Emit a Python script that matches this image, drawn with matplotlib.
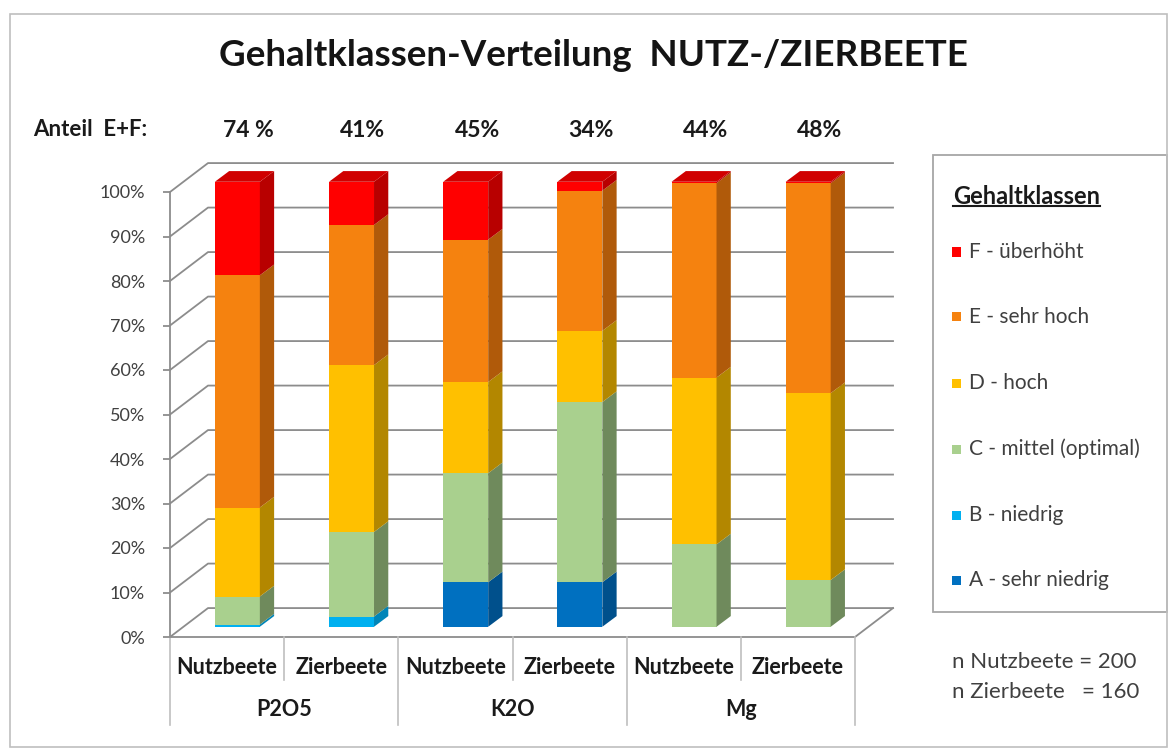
"""Gehaltklassen-Verteilung Nutz-/Zierbeete as a pseudo-3D stacked column chart."""
import numpy as np
import matplotlib
matplotlib.use("Agg")
import matplotlib.pyplot as plt
from matplotlib.patches import Polygon, Rectangle

plt.rcParams["font.family"] = ["Lato", "DejaVu Sans"]

# --- data (percent of samples per content class) ---
groups = ["P2O5", "K2O", "Mg"]
beds = ["Nutzbeete", "Zierbeete"]
cls_A = [0.0, 0.0, 10.0, 10.0, 0.0, 0.0]
cls_B = [0.5, 2.3, 0.0, 0.0, 0.0, 0.0]
cls_C = [6.3, 19.0, 24.5, 40.5, 18.5, 10.5]
cls_D = [20.0, 37.5, 20.5, 16.0, 37.5, 42.0]
cls_E = [52.2, 31.5, 32.0, 31.5, 43.7, 47.2]
cls_F = [21.0, 9.7, 13.0, 2.0, 0.3, 0.3]
share_EF = ["74 %", "41%", "45%", "34%", "44%", "48%"]
class_labels = ["A - sehr niedrig", "B - niedrig", "C - mittel (optimal)",
                "D - hoch", "E - sehr hoch", "F - überhöht"]
n_text = ["n Nutzbeete = 200", "n Zierbeete   = 160"]

front = ["#0070C0", "#00B0F0", "#A9D08E", "#FFC000", "#F5820F", "#FF0000"]
side = ["#00508C", "#0085B8", "#6F8A5C", "#B38700", "#B05A0A", "#B80000"]
top = ["#005A9E", "#0098D0", "#8BAE74", "#D9A300", "#D06A0A", "#D00000"]

# oblique "3D" geometry, in data units
DX, DY = 0.333, 6.5          # depth of the plot box
BX, BY = 0.09, 2.3           # front face of the columns behind front plane
BDX, BDY = 0.125, 2.4        # column depth
W = 0.394                    # column width
GRID = "#8C8C8C"
TXT = "#404040"
DARK = "#1A1A1A"

W_PX, H_PX = 1171, 749
fig = plt.figure(figsize=(W_PX / 100, H_PX / 100), dpi=100)
ax = fig.add_axes([170 / W_PX, (H_PX - 637) / H_PX, 685 / W_PX, 445 / H_PX])
ax.set_xlim(0, 6)
ax.set_ylim(0, 100)
for s in ("top", "right", "bottom"):
    ax.spines[s].set_visible(False)
ax.spines["left"].set_color(GRID)
ax.spines["left"].set_linewidth(1.3)
ax.set_xticks([])
ax.set_yticks(np.arange(0, 101, 10))
ax.set_yticklabels([f"{v}%" for v in range(0, 101, 10)])
ax.tick_params(axis="y", length=5, width=1.3, color=GRID, pad=13,
               labelsize=13, labelcolor=TXT)
ax.patch.set_visible(False)

# back wall grid + side diagonals
for v in range(0, 101, 10):
    ax.plot([0, DX, 6 + DX], [v, v + DY, v + DY], color=GRID, lw=1.3,
            clip_on=False, zorder=1)
# floor
ax.plot([0, 6, 6 + DX], [0, 0, DY], color=GRID, lw=1.3, clip_on=False, zorder=1)

# stacked columns
series = np.array([cls_A, cls_B, cls_C, cls_D, cls_E, cls_F])
xc = np.arange(6) + 0.5 + BX
bottoms = np.cumsum(np.vstack([np.zeros(6), series[:-1]]), axis=0)
for k in range(len(series)):
    ax.bar(xc, series[k], W, bottom=bottoms[k] + BY, color=front[k],
           lw=0, zorder=3, clip_on=False)
    for i in range(6):
        h = series[k][i]
        if h <= 0:
            continue
        xr = xc[i] + W / 2
        y0 = bottoms[k][i] + BY
        y1 = y0 + h
        ax.add_patch(Polygon([(xr, y0), (xr + BDX, y0 + BDY),
                              (xr + BDX, y1 + BDY), (xr, y1)],
                             closed=True, fc=side[k], lw=0, zorder=3,
                             clip_on=False))
# top faces belong to the top-most non-empty class
for i in range(6):
    k_top = max(k for k in range(len(series)) if series[k][i] > 0)
    yt = series[:, i].sum() + BY
    xl = xc[i] - W / 2
    ax.add_patch(Polygon([(xl, yt), (xl + W, yt), (xl + W + BDX, yt + BDY),
                          (xl + BDX, yt + BDY)], closed=True, fc=top[k_top],
                         lw=0, zorder=3, clip_on=False))

# category axis (two levels)
xt = ax.get_xaxis_transform()
for i in range(6):
    ax.text(i + 0.5, -0.068, beds[i % 2], transform=xt, ha="center",
            va="center", fontsize=15.5, fontweight="bold", color=DARK)
for j, g in enumerate(groups):
    ax.text(2 * j + 1, -0.164, g, transform=xt, ha="center", va="center",
            fontsize=15.5, fontweight="bold", color=DARK)
for i in range(7):
    y_end = -0.198 if i % 2 == 0 else -0.097
    ax.plot([i, i], [0, y_end], transform=xt, color="#BFBFBF", lw=1.2,
            clip_on=False)

# share E+F above columns
for i in range(6):
    ax.text(xc[i] + 0.1, 1.139, share_EF[i], transform=xt, ha="center",
            va="center", fontsize=16.5, fontweight="bold", color=DARK)
fig.text(33 / W_PX, 1 - 130 / H_PX, "Anteil  E+F:", ha="left", va="center",
         fontsize=16, fontweight="bold", color=DARK)

fig.text(593 / W_PX, 1 - 55 / H_PX, "Gehaltklassen-Verteilung  NUTZ-/ZIERBEETE",
         ha="center", va="center", fontsize=26.5, fontweight="bold",
         color="#141414")

# legend box
fig.add_artist(Rectangle((933 / W_PX, 1 - 612 / H_PX), 234 / W_PX, 457 / H_PX,
                         transform=fig.transFigure, fill=False,
                         ec="#A6A6A6", lw=1.3))
lt = fig.text(953 / W_PX, 1 - 196 / H_PX, "Gehaltklassen", ha="left",
              va="center", fontsize=17, fontweight="bold", color=DARK)
fig.canvas.draw()
bb = lt.get_window_extent().transformed(fig.transFigure.inverted())
fig.add_artist(plt.Line2D([bb.x0, bb.x1], [bb.y0 + 0.002, bb.y0 + 0.002],
                          transform=fig.transFigure, color=DARK, lw=1.5))
leg_y = [252, 317, 383, 449, 515, 580]
for r, k in enumerate(range(5, -1, -1)):
    yy = 1 - leg_y[r] / H_PX
    fig.add_artist(Rectangle((952 / W_PX, yy - 4.5 / H_PX), 9 / W_PX, 9 / H_PX,
                             transform=fig.transFigure, fc=front[k], lw=0))
    fig.text(969 / W_PX, yy, class_labels[k], ha="left", va="center",
             fontsize=15, color=TXT)

fig.text(952 / W_PX, 1 - 662 / H_PX, n_text[0], ha="left", va="center",
         fontsize=16, color=TXT)
fig.text(952 / W_PX, 1 - 692 / H_PX, n_text[1], ha="left", va="center",
         fontsize=16, color=TXT)

# outer chart border
fig.add_artist(Rectangle((10 / W_PX, 2 / H_PX), 1157 / W_PX, 733 / H_PX,
                         transform=fig.transFigure, fill=False,
                         ec="#BFBFBF", lw=1.2))

fig.savefig("out.png", dpi=100)
